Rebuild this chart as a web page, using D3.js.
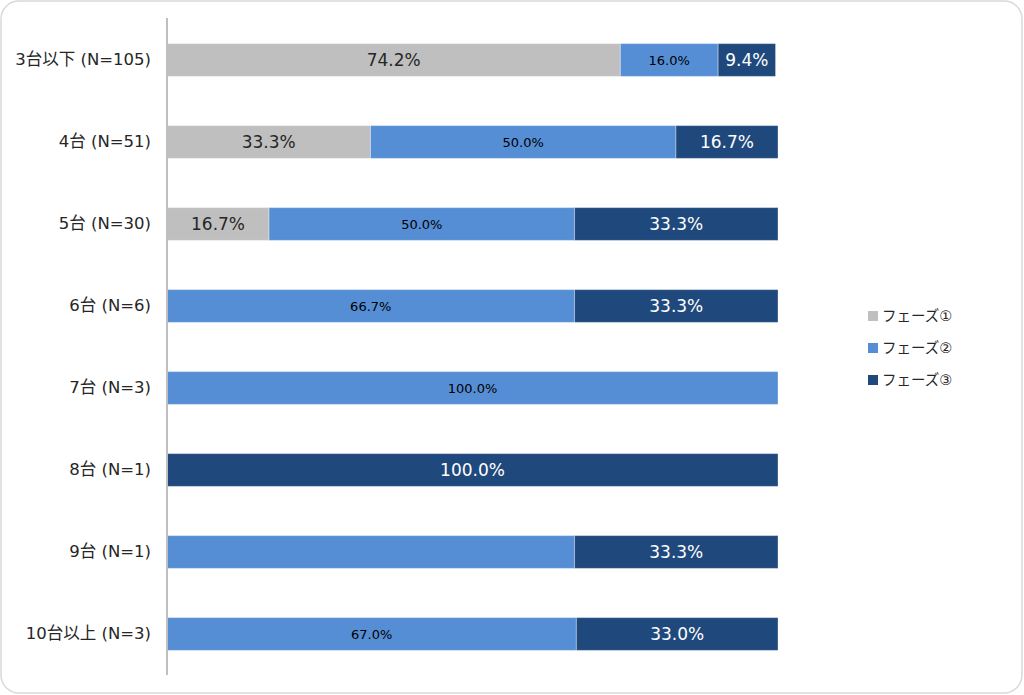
<!DOCTYPE html>
<html>
<head>
<meta charset="utf-8">
<script src="https://cdn.jsdelivr.net/npm/d3@7"></script>
<style>
  body { margin: 0; background: #fff; }
  svg { display: block; font-family: "DejaVu Sans", "Noto Sans CJK JP", sans-serif; }
</style>
</head>
<body>
<svg id="chart" width="1024" height="695"></svg>
<script>
// categories and series (percent)
const categories = ["3台以下 (N=105)", "4台 (N=51)", "5台 (N=30)", "6台 (N=6)", "7台 (N=3)", "8台 (N=1)", "9台 (N=1)", "10台以上 (N=3)"];
const phase1 = [74.2, 33.3, 16.7, 0, 0, 0, 0, 0];
const phase2 = [16.0, 50.0, 50.0, 66.7, 100.0, 0, 66.7, 67.0];
const phase3 = [9.4, 16.7, 33.3, 33.3, 0, 100.0, 33.3, 33.0];
const seriesNames = ["フェーズ①", "フェーズ②", "フェーズ③"];
// which segments carry no label in the original
const unlabeled = [["9台 (N=1)", 1]];

const colors = ["#bfbfbf", "#558ed5", "#1f497d"];
const labelFill = ["#262626", "#000000", "#ffffff"];
const labelSize = [17, 13, 17];

const svg = d3.select("#chart");

// card frame
svg.append("rect")
    .attr("x", 1).attr("y", 1)
    .attr("width", 1021).attr("height", 692)
    .attr("rx", 18).attr("ry", 18)
    .attr("fill", "#fff")
    .attr("stroke", "#d9d9d9")
    .attr("stroke-width", 1.5);

const x = d3.scaleLinear().domain([0, 100]).range([167, 778]);
const y = d3.scaleBand().domain(categories).range([19, 675]).paddingInner(0.6).paddingOuter(0.3);

const series = [phase1, phase2, phase3];
const rows = categories.map((c, i) => {
    let acc = 0;
    return series.map((s, k) => {
        const seg = { cat: c, k: k, x0: acc, x1: acc + s[i], v: s[i] };
        acc += s[i];
        return seg;
    });
});
const segs = rows.flat().filter(d => d.v > 0);

const g = svg.append("g");

g.selectAll("rect.seg")
    .data(segs)
    .enter().append("rect")
    .attr("class", "seg")
    .attr("x", d => x(d.x0))
    .attr("y", d => y(d.cat))
    .attr("width", d => x(d.x1) - x(d.x0))
    .attr("height", y.bandwidth())
    .attr("fill", d => colors[d.k])
    .attr("stroke", "#ffffff")
    .attr("stroke-opacity", 0.35)
    .attr("stroke-width", 1);

g.selectAll("text.val")
    .data(segs.filter(d => !unlabeled.some(u => u[0] === d.cat && u[1] === d.k)))
    .enter().append("text")
    .attr("class", "val")
    .attr("x", d => (x(d.x0) + x(d.x1)) / 2)
    .attr("y", d => y(d.cat) + y.bandwidth() / 2)
    .attr("dy", "0.36em")
    .attr("text-anchor", "middle")
    .attr("font-size", d => labelSize[d.k])
    .attr("fill", d => labelFill[d.k])
    .text(d => d.v.toFixed(1) + "%");

// category axis
const yAxis = svg.append("g")
    .attr("transform", "translate(167,0)")
    .call(d3.axisLeft(y).tickSize(0).tickPadding(16));
yAxis.select(".domain").remove();
yAxis.selectAll("text")
    .attr("font-size", 16.5)
    .attr("fill", "#262626")
    .style("font-family", "\"DejaVu Sans\", \"Noto Sans CJK JP\", sans-serif");

svg.append("line")
    .attr("x1", 167).attr("x2", 167)
    .attr("y1", 18).attr("y2", 675)
    .attr("stroke", "#bfbfbf")
    .attr("stroke-width", 2);

// legend
const legend = svg.append("g").attr("transform", "translate(868,316)");
const item = legend.selectAll("g")
    .data(seriesNames)
    .enter().append("g")
    .attr("transform", (d, i) => `translate(0,${i * 32})`);
item.append("rect")
    .attr("x", 0).attr("y", -5)
    .attr("width", 10).attr("height", 10)
    .attr("fill", (d, i) => colors[i]);
item.append("text")
    .attr("x", 14)
    .attr("dy", "0.36em")
    .attr("font-size", 14.5)
    .attr("fill", "#262626")
    .text(d => d);
</script>
</body>
</html>
